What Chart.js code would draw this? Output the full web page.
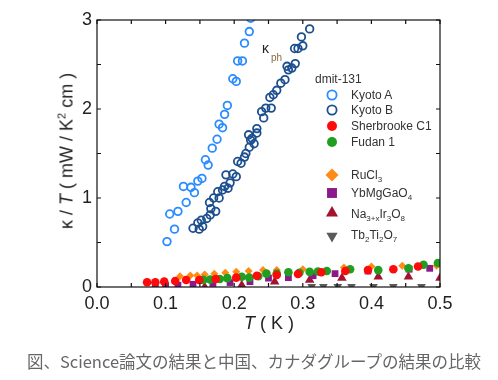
<!DOCTYPE html>
<html>
<head>
<meta charset="utf-8">
<script src="https://cdn.jsdelivr.net/npm/chart.js@4/dist/chart.umd.min.js"></script>
<style>
  html, body { margin: 0; padding: 0; background: #fff; }
  #wrap { position: relative; width: 498px; height: 380px; overflow: hidden; font-family: "Liberation Sans", Arial, sans-serif; }
  #c { position: absolute; left: 0; top: 0; }
  .t { position: absolute; white-space: nowrap; color: #222; }
  .ytitle { left: 67px; top: 151px; font-size: 18px; transform: translate(-50%, -50%) rotate(-90deg); }
  .xtitle { left: 269px; top: 323px; font-size: 18px; transform: translate(-50%, -50%); }
  .lg { font-size: 12px; color: #333; transform: translateY(-50%); line-height: 14px; }
  sub { font-size: 8px; vertical-align: -3px; line-height: 0; }
  sup { font-size: 11px; vertical-align: 7px; line-height: 0; }
  .cap { left: 254px; top: 361px; transform: translate(-50%, -50%); font-family: "Noto Sans CJK JP", sans-serif; font-size: 16.5px; color: #666; }
</style>
</head>
<body>
<div id="wrap">
  <canvas id="c" width="498" height="380"></canvas>
  <div class="t ytitle">κ / <i>T</i> ( mW / K<sup>2</sup> cm )</div>
  <div class="t xtitle"><i>T</i> ( K )</div>
  <div class="t" style="left:262px;top:40px;font-size:14px;color:#222;">κ</div>
  <div class="t" style="left:271px;top:52px;font-size:10px;color:#8a6a40;">ph</div>
  <div class="t lg" style="left:315px;top:79px;">dmit-131</div>
  <div class="t lg" style="left:351px;top:95px;">Kyoto A</div>
  <div class="t lg" style="left:351px;top:110px;">Kyoto B</div>
  <div class="t lg" style="left:351px;top:126px;">Sherbrooke C1</div>
  <div class="t lg" style="left:351px;top:142px;">Fudan 1</div>
  <div class="t lg" style="left:351px;top:175px;">RuCl<sub>3</sub></div>
  <div class="t lg" style="left:351px;top:193px;">YbMgGaO<sub>4</sub></div>
  <div class="t lg" style="left:351px;top:214px;">Na<sub>3+x</sub>Ir<sub>3</sub>O<sub>8</sub></div>
  <div class="t lg" style="left:351px;top:235px;">Tb<sub>2</sub>Ti<sub>2</sub>O<sub>7</sub></div>
  <div class="t cap">図、Science論文の結果と中国、カナダグループの結果の比較</div>
</div>
<script>
// ---- data (T in K, kappa/T in mW/K^2 cm) ----
const kyotoA_T = [0.102,0.106,0.113,0.118,0.126,0.130,0.137,0.142,0.147,0.153,0.158,0.162,0.168,0.175,0.178,0.183,0.186,0.190,0.198,0.203,0.205,0.212,0.215,0.222,0.224];
const kyotoA_K = [0.51,0.82,0.65,0.85,1.13,0.95,1.12,1.06,1.19,1.22,1.43,1.37,1.56,1.66,1.83,1.79,1.94,2.04,2.34,2.31,2.54,2.54,2.74,2.87,3.02];

const kyotoB_T = [0.140,0.147,0.149,0.152,0.154,0.160,0.164,0.165,0.166,0.170,0.173,0.176,0.178,0.183,0.186,0.188,0.191,0.194,0.198,0.203,0.205,0.210,0.215,0.217,0.221,0.222,0.224,0.226,0.229,0.233,0.233,0.240,0.243,0.246,0.252,0.254,0.257,0.262,0.268,0.274,0.277,0.279,0.284,0.289,0.288,0.293,0.300,0.298,0.310];
const kyotoB_K = [0.66,0.72,0.65,0.75,0.68,0.77,0.95,0.81,0.88,1.00,0.85,1.07,1.00,1.09,1.13,1.26,1.11,1.17,1.27,1.24,1.41,1.39,1.46,1.50,1.71,1.57,1.65,1.67,1.61,1.78,1.73,1.97,1.90,2.01,2.13,2.01,2.16,2.21,2.29,2.33,2.48,2.44,2.46,2.51,2.68,2.68,2.71,2.81,2.90];

const sherb_T = [0.073,0.085,0.098,0.114,0.130,0.149,0.173,0.203,0.233,0.262,0.293,0.327,0.362,0.395,0.432,0.468];
const sherb_K = [0.053,0.053,0.060,0.067,0.079,0.079,0.090,0.105,0.127,0.135,0.146,0.165,0.180,0.190,0.200,0.230];

const fudan_T = [0.155,0.165,0.179,0.190,0.211,0.222,0.235,0.247,0.262,0.279,0.295,0.310,0.322,0.335,0.369,0.410,0.454,0.476,0.497];
const fudan_K = [0.080,0.085,0.090,0.100,0.116,0.105,0.120,0.150,0.150,0.165,0.160,0.170,0.175,0.180,0.200,0.190,0.210,0.250,0.270];

const rucl_T = [0.121,0.136,0.146,0.157,0.171,0.187,0.203,0.221,0.242,0.262,0.300,0.360,0.400,0.445,0.495];
const rucl_K = [0.120,0.130,0.130,0.140,0.150,0.160,0.170,0.180,0.190,0.190,0.200,0.220,0.230,0.240,0.240];

const ybmg_T = [0.085,0.100,0.118,0.140,0.169,0.194,0.223,0.250,0.279,0.315,0.347,0.395,0.455,0.485];
const ybmg_K = [0.010,0.015,0.020,0.030,0.040,0.050,0.060,0.100,0.105,0.127,0.150,0.180,0.200,0.210];

const nair_T = [0.157,0.211,0.259,0.310,0.357,0.410,0.454,0.500];
const nair_K = [0.000,0.020,0.060,0.080,0.100,0.115,0.115,0.100];

const tbti_T = [0.313,0.330,0.351,0.371,0.403,0.432,0.473];
const tbti_K = [0.005,0.005,0.005,0.005,0.005,0.005,0.005];

// axis ticks
const xTickLabels = [0.0,0.1,0.2,0.3,0.4,0.5];
const xMarkTicks = [0,0.05,0.1,0.15,0.2,0.25,0.3,0.35,0.4,0.45,0.5];
const yMarkTicks = [0,0.5,1,1.5,2,2.5,3];

const pts = (xs, ys) => xs.map((x, i) => ({x: x, y: ys[i]}));

const datasets = [
  {label:'Kyoto A', data: pts(kyotoA_T,kyotoA_K), pointStyle:'circle', pointRadius:3.8, pointBorderWidth:1.8, pointBackgroundColor:'rgba(255,255,255,0)', pointBorderColor:'#2b8cff', order:1, lg:{y:95, r:4.6}},
  {label:'Kyoto B', data: pts(kyotoB_T,kyotoB_K), pointStyle:'circle', pointRadius:3.8, pointBorderWidth:1.8, pointBackgroundColor:'rgba(255,255,255,0)', pointBorderColor:'#1d4f8f', order:2, lg:{y:110, r:4.6}},
  {label:'Sherbrooke C1', data: pts(sherb_T,sherb_K), pointStyle:'circle', pointRadius:4.3, pointBorderWidth:0, pointBackgroundColor:'#ff0a0a', pointBorderColor:'#ff0a0a', order:3, lg:{y:126, r:5}},
  {label:'Fudan 1', data: pts(fudan_T,fudan_K), pointStyle:'circle', pointRadius:4.3, pointBorderWidth:0, pointBackgroundColor:'#1f9e1f', pointBorderColor:'#1f9e1f', order:4, lg:{y:142, r:5}},
  {label:'RuCl3', data: pts(rucl_T,rucl_K), pointStyle:'rectRot', pointRadius:4, pointBorderWidth:0, pointBackgroundColor:'#ff8a14', pointBorderColor:'#ff8a14', order:5, lg:{y:175, r:6.5}},
  {label:'YbMgGaO4', data: pts(ybmg_T,ybmg_K), pointStyle:'rect', pointRadius:4.8, pointBorderWidth:0, pointBackgroundColor:'#8a1a8a', pointBorderColor:'#8a1a8a', order:6, lg:{y:193, r:7}},
  {label:'Na3+xIr3O8', data: pts(nair_T,nair_K), pointStyle:'triangle', pointRadius:5.5, pointBorderWidth:0, pointBackgroundColor:'#a3122e', pointBorderColor:'#a3122e', order:7, lg:{y:213, r:7}},
  {label:'Tb2Ti2O7', data: pts(tbti_T,tbti_K), pointStyle:'triangle', pointRotation:180, pointRadius:5, pointBorderWidth:0, pointBackgroundColor:'#5a5a5a', pointBorderColor:'#5a5a5a', order:8, lg:{y:236, r:6.5}}
];
datasets.forEach(d => { d.showLine = false; d.clip = 0; d.pointHoverRadius = d.pointRadius; });

const frameAndTicks = {
  id: 'frameAndTicks',
  afterDatasetsDraw(chart) {
    const {ctx, chartArea: a, scales: {x, y}} = chart;
    ctx.save();
    ctx.strokeStyle = '#111';
    ctx.lineWidth = 1.2;
    ctx.strokeRect(a.left, a.top, a.right - a.left, a.bottom - a.top);
    const L = 4;
    ctx.beginPath();
    xMarkTicks.forEach(v => {
      const px = x.getPixelForValue(v);
      ctx.moveTo(px, a.bottom); ctx.lineTo(px, a.bottom - L);
      ctx.moveTo(px, a.top); ctx.lineTo(px, a.top + L);
    });
    yMarkTicks.forEach(v => {
      const py = y.getPixelForValue(v);
      ctx.moveTo(a.left, py); ctx.lineTo(a.left + L, py);
      ctx.moveTo(a.right, py); ctx.lineTo(a.right - L, py);
    });
    ctx.stroke();
    ctx.restore();
  },
  afterDraw(chart) {
    // legend markers from dataset styles
    const ctx = chart.ctx;
    ctx.save();
    chart.data.datasets.forEach(d => {
      ctx.fillStyle = d.pointBackgroundColor;
      ctx.strokeStyle = d.pointBorderColor;
      ctx.lineWidth = d.pointBorderWidth;
      Chart.helpers.drawPoint(ctx, {pointStyle: d.pointStyle, rotation: d.pointRotation || 0, radius: d.lg.r, borderWidth: d.pointBorderWidth}, 332, d.lg.y);
    });
    ctx.restore();
  }
};

new Chart(document.getElementById('c'), {
  type: 'scatter',
  data: { datasets: datasets },
  options: {
    responsive: false,
    devicePixelRatio: 1,
    animation: false,
    events: [],
    layout: { padding: { top: 20, right: 58, bottom: 46, left: 0 } },
    plugins: { legend: { display: false }, tooltip: { enabled: false } },
    scales: {
      x: {
        type: 'linear', min: 0, max: 0.5,
        afterFit(s) { s.height = 47; },
        grid: { display: false, drawTicks: false },
        border: { display: false },
        ticks: {
          stepSize: 0.1, padding: 6, color: '#222',
          font: { family: 'Liberation Sans', size: 18 },
          callback: (v) => { const m = xTickLabels.find(t => Math.abs(t - v) < 1e-6); return m === undefined ? '' : m.toFixed(1); }
        }
      },
      y: {
        type: 'linear', min: 0, max: 3,
        afterFit(s) { s.width = 97; },
        grid: { display: false, drawTicks: false },
        border: { display: false },
        ticks: {
          stepSize: 1, padding: 5, color: '#222',
          font: { family: 'Liberation Sans', size: 18 }
        }
      }
    }
  },
  plugins: [frameAndTicks]
});
</script>
</body>
</html>
